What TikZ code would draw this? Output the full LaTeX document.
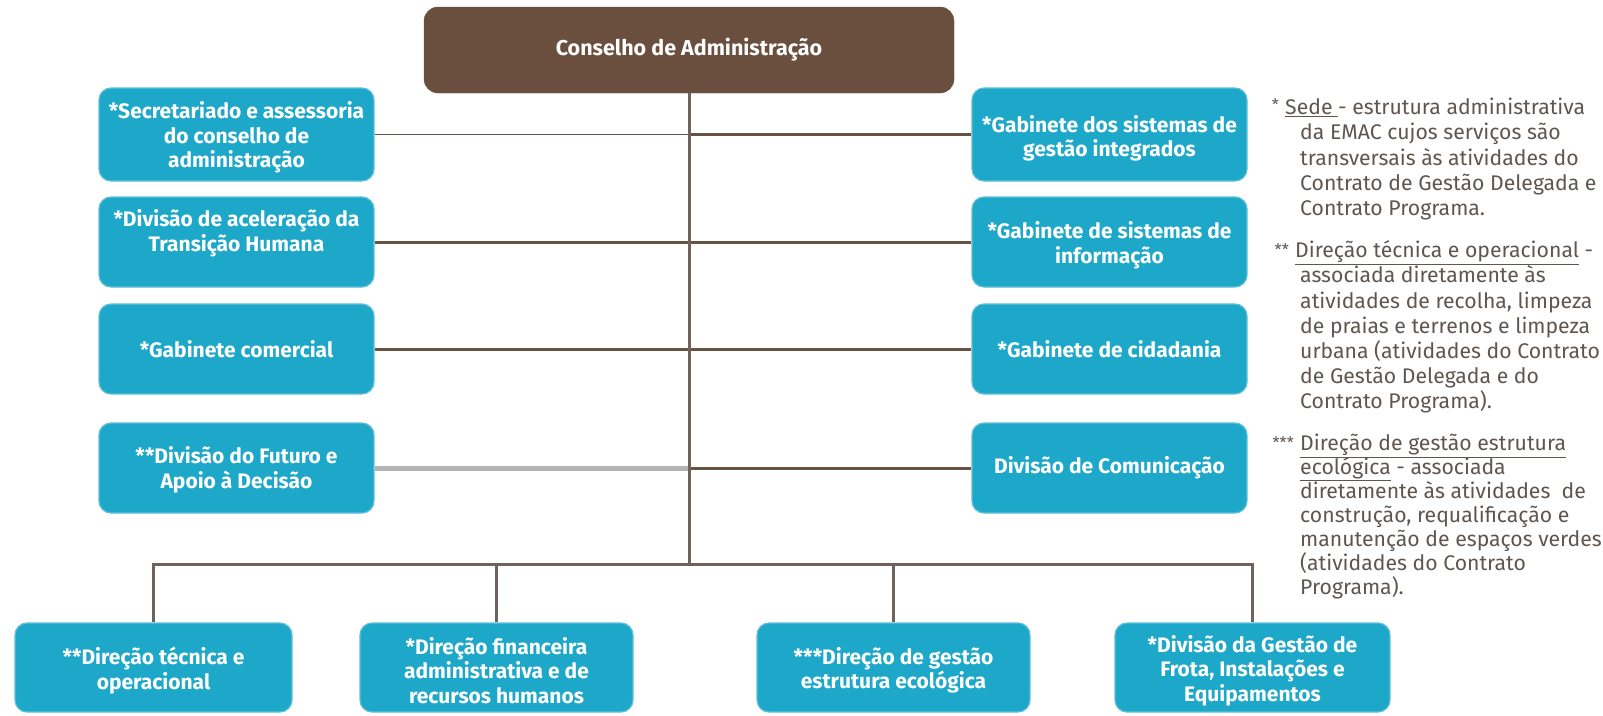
\documentclass[tikz,border=0pt]{standalone}
\usepackage{fontspec}
\setmainfont{Fira Sans}
\usetikzlibrary{positioning}
\definecolor{teal1}{HTML}{1DA8C9}
\definecolor{tealedge}{HTML}{5EC0D8}
\definecolor{brownbox}{HTML}{6B4F3E}
\definecolor{brownline}{HTML}{6A5242}
\definecolor{trunkline}{HTML}{6E625A}
\definecolor{grayline}{HTML}{B4B4B4}
\definecolor{legendtext}{HTML}{5F5650}
\tikzset{
  orgbox/.style={rectangle, rounded corners=12pt, fill=teal1, draw=tealedge, line width=1.2pt, inner sep=0pt},
  boxtext/.style={text=white, align=center, inner sep=0pt, font=\fontsize{21}{24.5}\selectfont\bfseries},
  topbox/.style={rectangle, rounded corners=14pt, fill=brownbox, draw=brownbox,
    text=white, align=center, inner sep=0pt, font=\fontsize{21.5}{24}\selectfont\bfseries},
  thinlink/.style={draw=brownline, line width=1.3pt},
  thicklink/.style={draw=brownline, line width=3pt},
  graylink/.style={draw=grayline, line width=5pt},
  trunk/.style={draw=trunkline, line width=3pt},
  legline/.style={anchor=mid west, inner sep=0pt, text=legendtext, font=\fontsize{21.2}{25}\selectfont},
  legstar/.style={anchor=mid east, inner sep=0pt, text=legendtext, font=\fontsize{16}{25}\selectfont},
}
\begin{document}
\begin{tikzpicture}[x=1pt,y=-1pt]
\useasboundingbox[fill=white] (0,0) rectangle (1603,715);

% top
\node[topbox, minimum width=530pt, minimum height=86pt] (T) at (689,50) {Conselho de Administração};

% left column
\node[orgbox, minimum width=275pt, minimum height=93pt] (L1) at (236.5,134.5) {};
\node[orgbox, minimum width=275pt, minimum height=90pt] (L2) at (236.5,242) {};
\node[orgbox, minimum width=275pt, minimum height=90pt] (L3) at (236.5,349) {};
\node[orgbox, minimum width=275pt, minimum height=90pt] (L4) at (236.5,468) {};
\node[boxtext] (L1t) at ([yshift=-3pt]L1.center) {*Secretariado e assessoria\\do conselho de\\administração};
\node[boxtext] (L2t) at ([yshift=9pt]L2.center) {*Divisão de aceleração da\\Transição Humana};
\node[boxtext] (L3t) at (L3.center) {*Gabinete comercial};
\node[boxtext] (L4t) at ([yshift=-2pt]L4.center) {**Divisão do Futuro e\\Apoio à Decisão};

% right column
\node[orgbox, minimum width=275pt, minimum height=93pt] (R1) at (1109.5,134.5) {};
\node[orgbox, minimum width=275pt, minimum height=90pt] (R2) at (1109.5,242) {};
\node[orgbox, minimum width=275pt, minimum height=90pt] (R3) at (1109.5,349) {};
\node[orgbox, minimum width=275pt, minimum height=90pt] (R4) at (1109.5,468) {};
\node[boxtext] (R1t) at ([yshift=-4pt]R1.center) {*Gabinete dos sistemas de\\gestão integrados};
\node[boxtext] (R2t) at ([yshift=-3pt]R2.center) {*Gabinete de sistemas de\\informação};
\node[boxtext] (R3t) at (R3.center) {*Gabinete de cidadania};
\node[boxtext] (R4t) at (R4.center) {Divisão de Comunicação};

% bottom row
\node[orgbox, minimum width=277pt, minimum height=89pt] (A) at (153.5,667.5) {};
\node[orgbox, minimum width=273pt, minimum height=89pt] (B) at (496.5,667.5) {};
\node[orgbox, minimum width=273pt, minimum height=89pt] (C) at (893.5,667.5) {};
\node[orgbox, minimum width=275pt, minimum height=89pt] (D) at (1252.5,667.5) {};
\node[boxtext] (At) at ([yshift=-3pt]A.center) {**Direção técnica e\\operacional};
\node[boxtext] (Bt) at ([yshift=-3pt]B.center) {*Direção financeira\\administrativa e de\\recursos humanos};
\node[boxtext] (Ct) at ([yshift=-3pt]C.center) {***Direção de gestão\\estrutura ecológica};
\node[boxtext] (Dt) at ([yshift=-3pt]D.center) {*Divisão da Gestão de\\Frota, Instalações e\\Equipamentos};

\coordinate (bus) at (689,564);

% connectors
\draw[thinlink] (L1.east) -- (T.south |- L1.east);
\draw[thicklink] (R1.west) -- (T.south |- R1.west);
\draw[thicklink] (L2.east) -- (T.south |- L2.east);
\draw[thicklink] (R2.west) -- (T.south |- R2.west);
\draw[thicklink] (L3.east) -- (T.south |- L3.east);
\draw[thicklink] (R3.west) -- (T.south |- R3.west);
\draw[graylink] (L4.east) -- (T.south |- L4.east);
\draw[thicklink] (R4.west) -- (T.south |- R4.west);
\draw[trunk] (T.south) -- (bus);
\draw[trunk, line cap=rect] (A.north |- bus) -- (D.north |- bus);
\draw[trunk] (A.north |- bus) -- (A.north);
\draw[trunk] (B.north |- bus) -- (B.north);
\draw[trunk] (C.north |- bus) -- (C.north);
\draw[trunk] (D.north |- bus) -- (D.north);

% legend block 1
\node[legline] (s1) at (1285,112) {\underline{Sede }- estrutura administrativa};
\node[legstar] (s1a) at ([xshift=-6pt]s1.west) {*};
\node[legline] (s2) at (1300,137.2) {da EMAC cujos serviços são};
\node[legline] (s3) at (1300,162.4) {transversais às atividades do};
\node[legline] (s4) at (1300,187.6) {Contrato de Gestão Delegada e};
\node[legline] (s5) at (1300,212.8) {Contrato Programa.};
% legend block 2
\node[legline] (t1) at (1295,255) {\underline{Direção técnica e operacional} -};
\node[legstar] (t1a) at ([xshift=-6pt]t1.west) {**};
\node[legline] (t2) at (1300,280.2) {associada diretamente às};
\node[legline] (t3) at (1300,305.4) {atividades de recolha, limpeza};
\node[legline] (t4) at (1300,330.6) {de praias e terrenos e limpeza};
\node[legline] (t5) at (1300,355.8) {urbana (atividades do Contrato};
\node[legline] (t6) at (1300,381) {de Gestão Delegada e do};
\node[legline] (t7) at (1300,406.2) {Contrato Programa).};
% legend block 3
\node[legline] (u1) at (1300,448) {\underline{Direção de gestão estrutura}};
\node[legstar] (u1a) at ([xshift=-6pt]u1.west) {***};
\node[legline] (u2) at (1300,472) {\underline{ecológica} - associada};
\node[legline] (u3) at (1300,496) {diretamente às atividades\ \ de};
\node[legline] (u4) at (1300,520) {construção, requalificação e};
\node[legline] (u5) at (1300,544) {manutenção de espaços verdes};
\node[legline] (u6) at (1300,568) {(atividades do Contrato};
\node[legline] (u7) at (1300,592) {Programa).};
\end{tikzpicture}
\end{document}
